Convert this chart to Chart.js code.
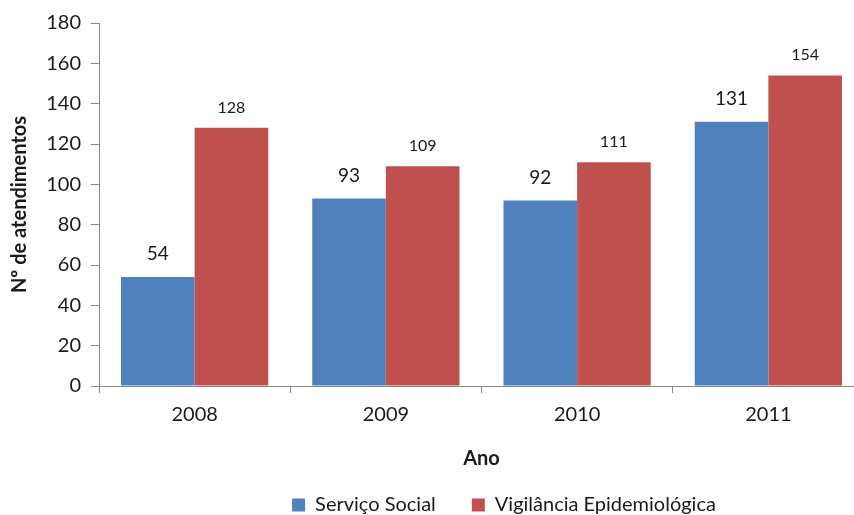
<!DOCTYPE html>
<html>
<head>
<meta charset="utf-8">
<script src="https://cdn.jsdelivr.net/npm/chart.js@4/dist/chart.umd.min.js"></script>
<style>
  html, body { margin: 0; padding: 0; background: #fff; overflow: hidden; }
  #wrap { width: 866px; height: 525px; }
</style>
</head>
<body>
<div id="wrap"><canvas id="barChart"></canvas></div>
<script>
const anos = ["2008", "2009", "2010", "2011"];
const servicoSocial = [54, 93, 92, 131];
const vigilancia = [128, 109, 111, 154];
const yTicks = [0, 20, 40, 60, 80, 100, 120, 140, 160, 180];

const FONT = "Lato";
const AXIS = "#868686";
const TEXT = "#1a1a1a";

// rótulos de valor acima das barras
const valueLabels = {
  id: "valueLabels",
  afterDatasetsDraw(chart) {
    const ctx = chart.ctx;
    chart.data.datasets.forEach((ds, i) => {
      const meta = chart.getDatasetMeta(i);
      const size = i === 0 ? 19 : 16;
      const gap = i === 0 ? 23 : 20.5;
      ctx.save();
      ctx.font = size + "px " + FONT;
      ctx.fillStyle = TEXT;
      ctx.textAlign = "center";
      ctx.textBaseline = "middle";
      meta.data.forEach((bar, j) => {
        ctx.fillText(String(ds.data[j]), bar.x, bar.y - gap);
      });
      ctx.restore();
    });
  },
};

// centraliza a legenda como no original
const legendShift = {
  id: "legendShift",
  afterLayout(chart) {
    const lg = chart.legend;
    const dx = 504 - (lg.left + lg.right) / 2;
    lg.left += dx;
    lg.right += dx;
  },
};

const chart = new Chart(document.getElementById("barChart"), {
  type: "bar",
  data: {
    labels: anos,
    datasets: [
      { label: "Serviço Social", data: servicoSocial, backgroundColor: "#4F81BD" },
      { label: "Vigilância Epidemiológica", data: vigilancia, backgroundColor: "#C0504D" },
    ],
  },
  options: {
    responsive: true,
    maintainAspectRatio: false,
    animation: false,
    layout: { padding: { top: 23, right: 2, left: 0, bottom: 0 } },
    datasets: { bar: { categoryPercentage: 0.77, barPercentage: 1.0, borderWidth: 0 } },
    plugins: {
      tooltip: { enabled: false },
      legend: {
        position: "bottom",
        labels: {
          color: TEXT,
          font: { family: FONT, size: 20 },
          boxWidth: 13,
          boxHeight: 13,
          padding: 36,
        },
      },
    },
    scales: {
      x: {
        grid: { offset: true, drawOnChartArea: false, tickLength: 7, color: AXIS },
        border: { color: AXIS },
        ticks: { color: TEXT, font: { family: FONT, size: 20 }, padding: 10 },
        title: {
          display: true,
          text: "Ano",
          color: TEXT,
          font: { family: FONT, size: 20, weight: "bold" },
          padding: { top: 0, bottom: -12 },
        },
        afterFit(axis) { axis.height = 73; },
      },
      y: {
        min: 0,
        max: 180,
        afterBuildTicks(axis) { axis.ticks = yTicks.map((v) => ({ value: v })); },
        grid: { drawOnChartArea: false, tickLength: 8, color: AXIS },
        border: { color: AXIS },
        ticks: { color: TEXT, font: { family: FONT, size: 20 }, padding: 10 },
        title: {
          display: true,
          text: "Nº de atendimentos",
          color: TEXT,
          font: { family: FONT, size: 20, weight: "bold" },
          padding: { top: 8, bottom: 0 },
        },
        afterFit(axis) { axis.width = 99; },
      },
    },
  },
  plugins: [valueLabels, legendShift],
});
</script>
</body>
</html>
